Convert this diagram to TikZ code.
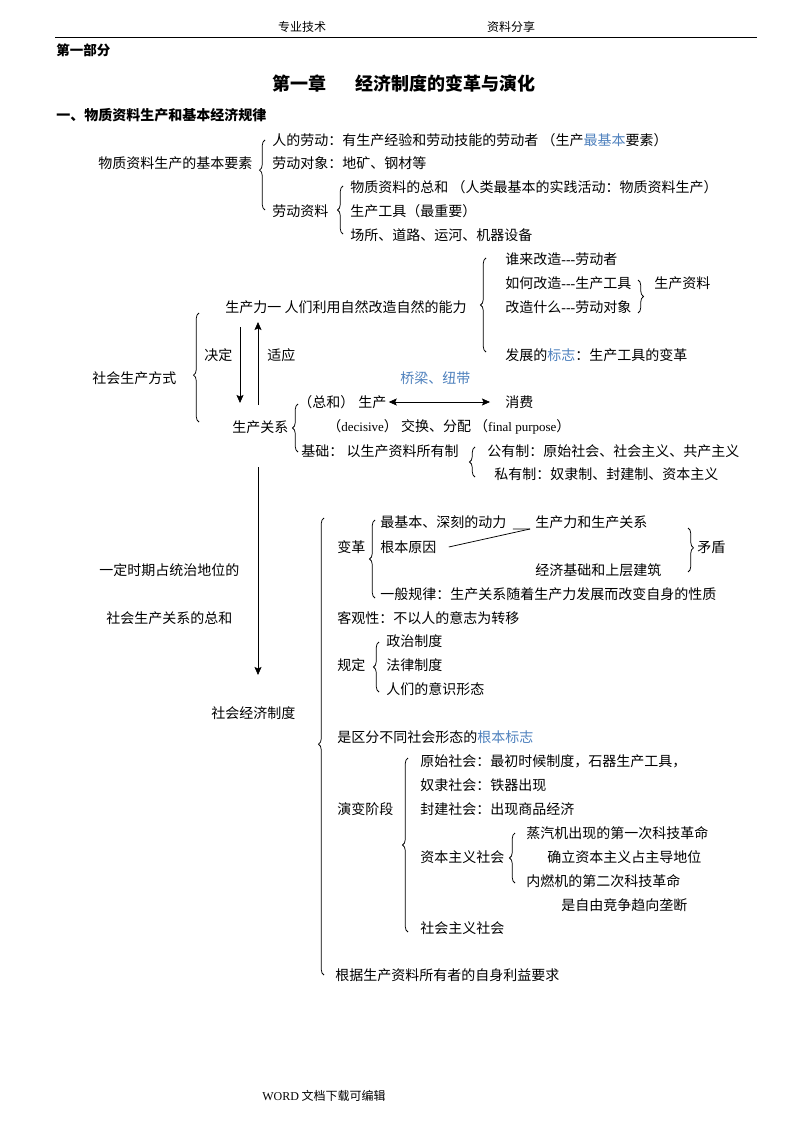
\documentclass[tikz,border=0pt]{standalone}
\usepackage{fontspec}
\setmainfont{Noto Sans CJK SC}
\newfontfamily\latfont{Liberation Serif}
\usetikzlibrary{arrows.meta,decorations.pathreplacing}
\definecolor{markblue}{RGB}{79,129,189}
\tikzstyle{txt} = [anchor=west, inner sep=0pt, font=\fontsize{14pt}{16pt}\selectfont]
\tikzstyle{small} = [inner sep=0pt, font=\fontsize{12pt}{14pt}\selectfont]
\tikzstyle{heading} = [anchor=west, inner sep=0pt, font=\fontsize{14pt}{16pt}\selectfont\bfseries]
\tikzstyle{title} = [anchor=west, inner sep=0pt, font=\fontsize{18pt}{20pt}\selectfont\bfseries]
\tikzstyle{arrow} = [->,>={Stealth[length=8pt,width=7pt,inset=1.5pt]}]
\tikzstyle{dblarrow} = [<->,>={Stealth[length=8pt,width=7pt,inset=1.5pt]}]
\tikzstyle{lbrace} = [decorate, decoration={brace, amplitude=5.5pt}]

\begin{document}
\begin{tikzpicture}[x=1pt, y=-1pt, line width=0.75pt]
        \useasboundingbox (0,0) rectangle (794,1123);
        % header
        \node (hdleft) [small] at (302,27) {专业技术};
        \node (hdright) [small] at (511,27) {资料分享};
        \draw (55,37) -- (757,37);
        \node (part) [heading, font=\fontsize{13.5pt}{15pt}\selectfont\bfseries] at (56,50) {第一部分};
        \node (chap) [title] at (272,84) {第一章\hspace{1.6em}经济制度的变革与演化};
        \node (sec) [heading] at (56,115) {一、物质资料生产和基本经济规律};
        % elements of production
        \node (basic) [txt] at (98,163) {物质资料生产的基本要素};
        \node (labor) [txt] at (272,140) {人的劳动：有生产经验和劳动技能的劳动者\ （生产\textcolor{markblue}{最基本}要素）};
        \node (object) [txt] at (272,163) {劳动对象：地矿、钢材等};
        \node (means) [txt] at (272,211) {劳动资料};
        \node (sum) [txt] at (350,187) {物质资料的总和\ （人类最基本的实践活动：物质资料生产）};
        \node (tool) [txt] at (350,211) {生产工具（最重要）};
        \node (site) [txt] at (350,235) {场所、道路、运河、机器设备};
        \draw [lbrace, decoration={aspect=0.57}] (265,210) -- (265,140);
        \draw [lbrace] (343,234) -- (343,186);
        % productive forces
        \node (force) [txt] at (225,307) {生产力一\ 人们利用自然改造自然的能力};
        \node (who) [txt] at (505,259) {谁来改造{\latfont ---}劳动者};
        \node (how) [txt] at (505,283) {如何改造{\latfont ---}生产工具};
        \node (what) [txt] at (505,307) {改造什么{\latfont ---}劳动对象};
        \node (pmeans) [txt] at (654,283) {生产资料};
        \node (sign) [txt] at (505,355) {发展的\textcolor{markblue}{标志}：生产工具的变革};
        \draw [lbrace] (486,352) -- (486,258);
        \draw [lbrace] (638,280) -- (638,313);
        \node (mode) [txt] at (92,378) {社会生产方式};
        \node (decide) [txt] at (204,355) {决定};
        \node (adapt) [txt] at (267,355) {适应};
        \draw [lbrace, decoration={aspect=0.43}] (199,422) -- (199,313);
        \coordinate (dtop) at (240,327);
        \coordinate (dbot) at (240,403);
        \coordinate (ubot) at (258,405);
        \coordinate (utop) at (258,322);
        \draw [arrow] (dtop) -- (dbot);
        \draw [arrow] (ubot) -- (utop);
        % relations of production
        \node (bridge) [txt, text=markblue] at (400,378) {桥梁、纽带};
        \node (zonghe) [txt] at (298,402) {（总和）};
        \node (prod) [txt] at (358,402) {生产};
        \node (cons) [txt] at (505,402) {消费};
        \draw [dblarrow, shorten <=2pt, shorten >=15pt] (prod.east) -- (cons.west);
        \node (rel) [txt] at (232,427) {生产关系};
        \node (exch) [txt] at (327,427) {（{\latfont\fontsize{13pt}{15pt}\selectfont decisive}）\ 交换、分配\ （{\latfont\fontsize{13pt}{15pt}\selectfont final purpose}）};
        \node (base) [txt] at (301,451) {基础：\ 以生产资料所有制};
        \node (public) [txt] at (487,451) {公有制：原始社会、社会主义、共产主义};
        \node (private) [txt] at (494,474) {私有制：奴隶制、封建制、资本主义};
        \draw [lbrace] (298,452) -- (298,404);
        \draw [lbrace] (475,477) -- (475,447);
        % economic system
        \coordinate (ltop) at (258,467);
        \coordinate (lbot) at (258,675);
        \draw [arrow] (ltop) -- (lbot);
        \node (ruling) [txt] at (99,570) {一定时期占统治地位的};
        \node (total) [txt] at (106,618) {社会生产关系的总和};
        \node (system) [txt] at (211,713) {社会经济制度};
        \draw [lbrace, decoration={aspect=0.505}] (324,975) -- (324,518);
        % reform
        \node (change) [txt] at (337,547) {变革};
        \node (power) [txt] at (380,522) {最基本、深刻的动力};
        \node (prodrel) [txt] at (535,522) {生产力和生产关系};
        \node (cause) [txt] at (380,547) {根本原因};
        \node (basesup) [txt] at (535,570) {经济基础和上层建筑};
        \node (contra) [txt] at (697,547) {矛盾};
        \node (law) [txt] at (380,594) {一般规律：生产关系随着生产力发展而改变自身的性质};
        \draw [lbrace] (375,598) -- (375,520);
        \draw [lbrace, decoration={aspect=0.45}] (688,528) -- (688,572);
        \coordinate (meet) at (530,529);
        \draw ([xshift=6pt]power.south east) -- (meet);
        \draw ([xshift=12pt]cause.east) -- (meet);
        \node (objective) [txt] at (337,618) {客观性：不以人的意志为转移};
        % stipulates
        \node (rule) [txt] at (337,665) {规定};
        \node (polit) [txt] at (386,641) {政治制度};
        \node (legal) [txt] at (386,665) {法律制度};
        \node (ideo) [txt] at (386,689) {人们的意识形态};
        \draw [lbrace] (379,692) -- (379,642);
        \node (marker) [txt] at (337,737) {是区分不同社会形态的\textcolor{markblue}{根本标志}};
        % stages
        \node (evol) [txt] at (337,809) {演变阶段};
        \node (prim) [txt] at (420,761) {原始社会：最初时候制度，石器生产工具，};
        \node (slave) [txt] at (420,785) {奴隶社会：铁器出现};
        \node (feudal) [txt] at (420,809) {封建社会：出现商品经济};
        \node (capit) [txt] at (420,857) {资本主义社会};
        \node (social) [txt] at (420,928) {社会主义社会};
        \draw [lbrace] (408,932) -- (408,758);
        \node (steam) [txt] at (526,833) {蒸汽机出现的第一次科技革命};
        \node (establish) [txt] at (547,857) {确立资本主义占主导地位};
        \node (combust) [txt] at (526,881) {内燃机的第二次科技革命};
        \node (monop) [txt] at (561,905) {是自由竞争趋向垄断};
        \draw [lbrace] (515,883) -- (515,833);
        \node (interest) [txt] at (335,975) {根据生产资料所有者的自身利益要求};
        % footer
        \node (footer) [small, anchor=west] at (262,1096) {{\latfont WORD} 文档下载可编辑};
\end{tikzpicture}
\end{document}
